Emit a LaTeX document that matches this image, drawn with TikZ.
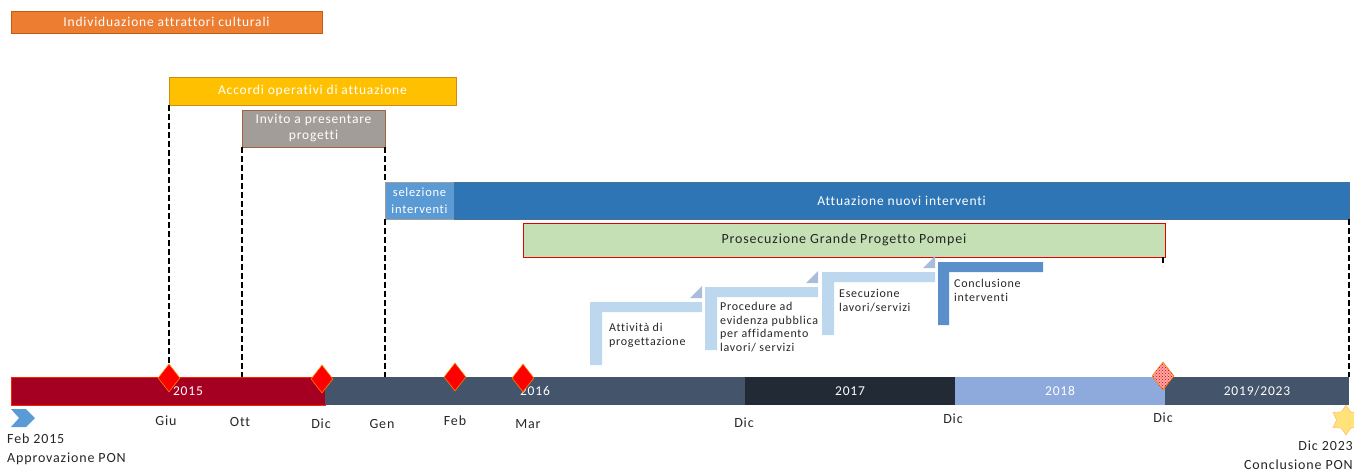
\documentclass[tikz,border=0pt]{standalone}
\usepackage{fontspec}
\setmainfont{Carlito}[LetterSpace=6,Ligatures=NoCommon]
\usetikzlibrary{positioning,shapes.geometric,patterns}
\definecolor{cOrange}{HTML}{ED7D31}
\definecolor{cOrangeD}{HTML}{C55A11}
\definecolor{cYellow}{HTML}{FFC000}
\definecolor{cYellowD}{HTML}{D08A10}
\definecolor{cGrey}{HTML}{A39D9A}
\definecolor{cBrown}{HTML}{A0633A}
\definecolor{cSelez}{HTML}{5B9BD5}
\definecolor{cAttuaz}{HTML}{2E75B6}
\definecolor{cGreen}{HTML}{C5E0B4}
\definecolor{cRed}{HTML}{A50021}
\definecolor{cSlate}{HTML}{44546A}
\definecolor{cDark}{HTML}{222A35}
\definecolor{cLight}{HTML}{8EA9DB}
\definecolor{cStep}{HTML}{BDD7EE}
\definecolor{cStepD}{HTML}{5B8FCB}
\definecolor{cTri}{HTML}{A9BCD9}
\definecolor{cChev}{HTML}{5B9BD5}
\definecolor{cStar}{HTML}{FFE27A}
\definecolor{cText}{HTML}{262626}
\begin{document}
\begin{tikzpicture}[x=1pt,y=-1pt]
\tikzset{box/.style={rectangle,inner sep=0pt,outer sep=0pt,text=white,align=center,anchor=north west,line width=1pt,font=\fontsize{13.5}{16}\selectfont}}
\tikzset{seg/.style={rectangle,inner sep=0pt,outer sep=0pt,minimum height=28pt,text=white,font=\fontsize{13.5}{15}\selectfont}}
\tikzset{mile/.style={diamond,inner sep=0pt,minimum width=22pt,minimum height=28pt,fill=red,draw=orange,line width=0.6pt}}
\tikzset{month/.style={text=cText,inner sep=0pt,font=\fontsize{14}{19}\selectfont}}
\tikzset{steptext/.style={text=cText,inner sep=0pt,align=left,anchor=north west,font=\fontsize{12}{13.7}\selectfont}}
\tikzset{cut/.style={black,line width=1.6pt,dash pattern=on 6pt off 3pt}}
\useasboundingbox (0,0) rectangle (1354,474);
\node[box,fill=cOrange,draw=cOrangeD,minimum width=311pt,minimum height=22pt] (indiv) at (11,11) {Individuazione attrattori culturali};
\node[box,fill=cYellow,draw=cYellowD,minimum width=287pt,minimum height=28pt] (accordi) at (169,77) {Accordi operativi di attuazione};
\node[box,fill=cGrey,draw=cBrown,minimum width=143pt,minimum height=37pt] (invito) at (242,110) {Invito a presentare\\progetti};
\node[box,fill=cSelez,draw=cGrey,minimum width=69pt,minimum height=37pt,font=\fontsize{12.5}{17}\selectfont] (selez) at (385,182) {selezione\\interventi};
\node[box,fill=cAttuaz,draw=cAttuaz!80!cBrown,minimum width=895pt,minimum height=37pt] (attuaz) at (454,182) {Attuazione nuovi interventi};
\node[box,fill=cGreen,draw=red!90!black,text=cText,minimum width=642pt,minimum height=34pt,font=\fontsize{14}{16}\selectfont] (pompei) at (523,223) {Prosecuzione Grande Progetto Pompei};
\node[seg,fill=cRed,draw=red!75!orange,line width=0.8pt,minimum width=314pt,anchor=west] (y2015) at (11,391) {};
\node[seg,fill=cSlate,minimum width=420pt,right=0pt of y2015] (y2016) {2016};
\node[seg,fill=cDark,minimum width=210pt,right=0pt of y2016] (y2017) {2017};
\node[seg,fill=cLight,minimum width=210pt,right=0pt of y2017] (y2018) {2018};
\node[seg,fill=cSlate,minimum width=184pt,right=0pt of y2018] (y2019) {2019/2023};
\node[text=white,inner sep=0pt,font=\fontsize{13.5}{15}\selectfont] (l2015) at (188,391) {2015};
\draw[cut] (accordi.south west) -- (accordi.south west |- y2015.north);
\draw[cut] (invito.south west) -- (invito.south west |- y2015.north);
\draw[cut] (invito.south east) -- (selez.north west);
\draw[cut] (selez.south west) -- (selez.south west |- y2016.north);
\draw[cut] (attuaz.south east) -- (attuaz.south east |- y2019.north);
\coordinate (tick) at (1163,266);
\draw[cut] (pompei.south east -| tick) -- (tick);
\foreach \L/\T/\W in {590/302/112,705/287/113,822/272/113}{
  \fill[cStep] (\L,\T) -- ++(\W,0) -- ++(0,10) -- ++({12-\W},0) -- ++(0,53) -- ++(-12,0) -- cycle;
  \fill[cTri] ({\L+\W-12},{\T-4}) -- ({\L+\W},{\T-4}) -- ({\L+\W},{\T-16}) -- cycle;
}
\fill[cStepD] (938,262) -- ++(105,0) -- ++(0,10) -- ++(-94,0) -- ++(0,53) -- ++(-11,0) -- cycle;
\node[steptext] (st1) at (609,323) {Attività di\\progettazione};
\node[steptext] (st2) at (720,302) {Procedure ad\\evidenza pubblica\\per affidamento\\lavori/ servizi};
\node[steptext] (st3) at (839,289) {Esecuzione\\lavori/servizi};
\node[steptext] (st4) at (954,279) {Conclusione\\interventi};
\node[mile] (mGiu) at (169,378) {};
\node[mile] (mDic) at (322,379) {};
\node[mile] (mFeb) at (455,377) {};
\node[mile] (mMar) at (523,378) {};
\node[mile,fill=red!35,postaction={pattern=crosshatch dots,pattern color=red!85!black}] (mEnd) at (1163,376) {};
\fill[cChev] (11,409) -- (26,409) -- (35,418) -- (26,427) -- (11,427) -- (19,418) -- cycle;
\node[star,star points=6,star point ratio=1.6,fill=cStar,draw=orange!60,inner sep=0pt,minimum size=30pt] (fine) at (1346,420) {};
\node[month] (tGiu) at (166,421) {Giu};
\node[month] (tOtt) at (240,422) {Ott};
\node[month] (tDic) at (321,424) {Dic};
\node[month] (tGen) at (382,424) {Gen};
\node[month] (tFeb) at (455,421) {Feb};
\node[month] (tMar) at (528,424) {Mar};
\node[month] (tDic1) at (744,423) {Dic};
\node[month] (tDic2) at (953,419) {Dic};
\node[month] (tDic3) at (1163,418) {Dic};
\node[month,align=left,anchor=north west] (pon1) at (7,434) {Feb 2015\\Approvazione PON};
\node[month,align=right,anchor=north east] (pon2) at (1353,441) {Dic 2023\\Conclusione PON};
\end{tikzpicture}
\end{document}
